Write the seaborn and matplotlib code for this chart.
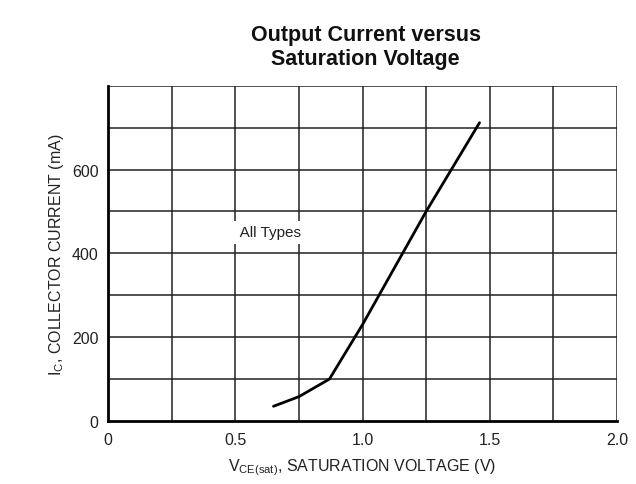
import matplotlib
matplotlib.use("Agg")
import matplotlib.pyplot as plt
import seaborn as sns
import pandas as pd

vce_sat = [0.65, 0.75, 0.87, 1.00, 1.25, 1.46]
ic_ma = [35, 58, 100, 230, 500, 712]
x_ticks = [0, 0.5, 1.0, 1.5, 2.0]
x_tick_labels = ["0", "0.5", "1.0", "1.5", "2.0"]
y_ticks = [0, 200, 400, 600]
y_tick_labels = ["0", "200", "400", "600"]

sns.set_style("white")
plt.rcParams["font.family"] = ["Liberation Sans", "DejaVu Sans"]
plt.rcParams["mathtext.default"] = "regular"

fig = plt.figure(figsize=(6.36, 4.85), dpi=100)
ax = fig.add_axes([0.170, 0.130, 0.800, 0.691])

df = pd.DataFrame({"V": vce_sat, "I": ic_ma})
sns.lineplot(data=df, x="V", y="I", ax=ax, color="black", linewidth=2.0, zorder=5)

ax.set_xlim(0, 2.0)
ax.set_ylim(0, 800)
ax.set_xticks(x_ticks)
ax.set_xticklabels(x_tick_labels)
ax.set_yticks(y_ticks)
ax.set_yticklabels(y_tick_labels)

for xv in [i * 0.25 for i in range(1, 9)]:
    ax.axvline(xv, color="#222222", linewidth=1.1, zorder=1)
for yv in range(100, 900, 100):
    ax.axhline(yv, color="#222222", linewidth=1.1, zorder=1)

for s in ["top", "right"]:
    ax.spines[s].set_visible(False)
ax.spines["left"].set_linewidth(2.0)
ax.spines["bottom"].set_linewidth(2.0)
ax.spines["left"].set_color("black")
ax.spines["bottom"].set_color("black")

ax.tick_params(axis="both", length=0, labelsize=11.5, colors="#222222")
ax.tick_params(axis="x", pad=8)
ax.tick_params(axis="y", pad=7)

ax.text(0.487, 450, "  All Types", fontsize=11, color="#222222", ha="left", va="center",
        bbox=dict(facecolor="white", edgecolor="none", boxstyle="square,pad=0.3"), zorder=4)

ax.set_xlabel(r"V$_{CE(sat)}$, SATURATION VOLTAGE (V)", fontsize=11.5, color="#222222", labelpad=7)
ax.set_ylabel(r"I$_{C}$, COLLECTOR CURRENT (mA)", fontsize=11.5, color="#222222", labelpad=4)

fig.suptitle("Output Current versus\nSaturation Voltage", x=0.575, y=0.948, fontsize=15.5,
             fontweight="bold", color="#111111", linespacing=1.15)

fig.savefig("out.png", dpi=100)
